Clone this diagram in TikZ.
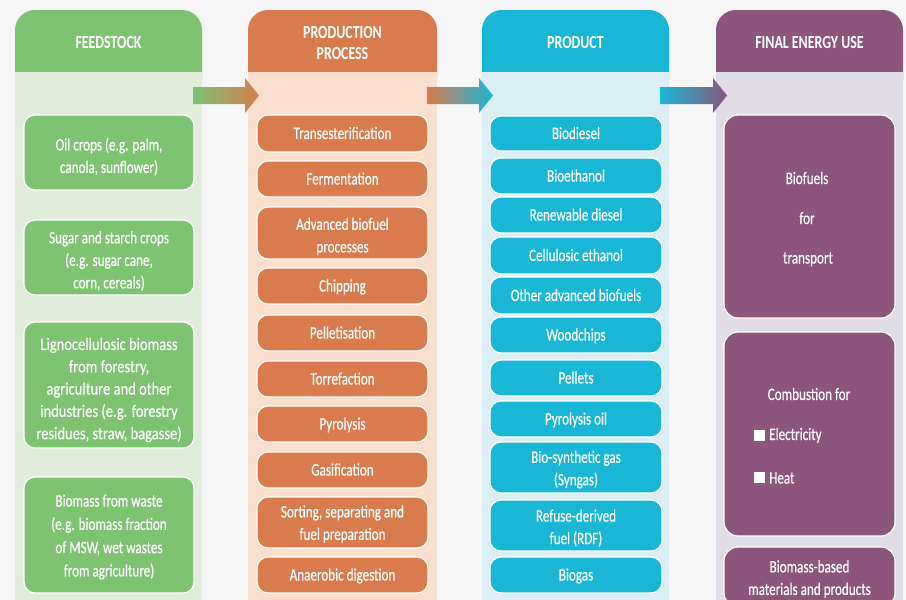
\documentclass[tikz,border=0pt]{standalone}
\usepackage{fontspec}
\setmainfont{Carlito}[FakeStretch=0.75, FakeBold=0.35]
\newfontfamily\widefont{Carlito}[FakeStretch=0.83, FakeBold=0.35]
\newfontfamily\hdrfont{Carlito}[FakeStretch=0.75, BoldFont=*-Bold]
\usetikzlibrary{calc}
\definecolor{bg}{HTML}{F6F6F6}
\definecolor{gH}{HTML}{7DC372}
\definecolor{gL}{HTML}{E1EDDB}
\definecolor{oH}{HTML}{D97B4C}
\definecolor{oL}{HTML}{FADFCF}
\definecolor{cH}{HTML}{19B7D5}
\definecolor{cL}{HTML}{DBEEF5}
\definecolor{pH}{HTML}{8B557C}
\definecolor{pL}{HTML}{E0DDE6}
\tikzset{
  struts/.style={execute at begin node={\rule{0pt}{16pt}}, execute at end node={\rule[-5pt]{0pt}{5pt}}},
  box/.style={rounded corners=11, draw=white, line width=1.2, text=white, align=center, inner sep=0pt, struts, font=\fontsize{17.5}{22.5}\selectfont},
  gbox/.style={box, fill=gH, minimum width=170},
  obox/.style={box, fill=oH, minimum width=171},
  cbox/.style={box, fill=cH, minimum width=172},
  pbox/.style={box, fill=pH, minimum width=171, rounded corners=14},
  hdr/.style={text=white, align=center, inner sep=0pt, font=\fontsize{18.5}{21}\selectfont\hdrfont\bfseries},
  txt/.style={text=white, inner sep=0pt, struts, font=\fontsize{17.5}{22.5}\selectfont},
  mtxt/.style={text=white, inner sep=0pt, align=center, font=\fontsize{17.5}{22.5}\selectfont},
  bulletsq/.style={fill=white, minimum size=11, inner sep=0pt},
}
\begin{document}
\begin{tikzpicture}[x=1pt,y=-1pt]
\fill[bg] (0,0) rectangle (906,600);
\useasboundingbox (0,0) rectangle (906,600);
% column headers (rounded) and bodies
\fill[gH, rounded corners=20] (15,10) rectangle (202,100);
\fill[oH, rounded corners=20] (248,10) rectangle (437,100);
\fill[cH, rounded corners=20] (482,10) rectangle (669,100);
\fill[pH, rounded corners=20] (716,10) rectangle (903,100);
\fill[gL] (15,72) rectangle (202,610);
\fill[oL] (248,72) rectangle (437,610);
\fill[cL] (482,72) rectangle (669,610);
\fill[pL] (716,72) rectangle (903,610);
\node[hdr] (h1) at (108.5,42) {FEEDSTOCK};
\node[hdr] (h2) at (342.5,42.5) {PRODUCTION\\PROCESS};
\node[hdr] (h3) at (575.5,42) {PRODUCT};
\node[hdr] (h4) at (809.5,42) {FINAL ENERGY USE};
% arrows between columns
\coordinate (a1s) at (193,95.5); \coordinate (a1e) at (259,95.5);
\coordinate (a2s) at (427,95.5); \coordinate (a2e) at (493,95.5);
\coordinate (a3s) at (660,95.5); \coordinate (a3e) at (727,95.5);
\shade[left color=gH, right color=oH] ($(a1s)+(0,-8.5)$) -- ($(a1e)+(-14,-8.5)$) -- ($(a1e)+(-14,-17.5)$) -- (a1e) -- ($(a1e)+(-14,17.5)$) -- ($(a1e)+(-14,8.5)$) -- ($(a1s)+(0,8.5)$) -- cycle;
\shade[left color=oH, right color=cH] ($(a2s)+(0,-8.5)$) -- ($(a2e)+(-14,-8.5)$) -- ($(a2e)+(-14,-17.5)$) -- (a2e) -- ($(a2e)+(-14,17.5)$) -- ($(a2e)+(-14,8.5)$) -- ($(a2s)+(0,8.5)$) -- cycle;
\shade[left color=cH, right color=pH] ($(a3s)+(0,-8.5)$) -- ($(a3e)+(-14,-8.5)$) -- ($(a3e)+(-14,-17.5)$) -- (a3e) -- ($(a3e)+(-14,17.5)$) -- ($(a3e)+(-14,8.5)$) -- ($(a3s)+(0,8.5)$) -- cycle;
% feedstock
\node[gbox, minimum height=75] (f1) at (109,152.5) {};
\node[mtxt] (f1t) at ($(f1)+(0,4)$) {Oil crops (e.g. palm,\\canola, sunflower)};
\node[gbox, minimum height=75] (f2) at (109,257.5) {};
\node[mtxt] (f2t) at ($(f2)+(0,3.5)$) {Sugar and starch crops\\(e.g. sugar cane,\\corn, cereals)};
\node[gbox, minimum height=126] (f3) at (109,385) {};
\node[mtxt, font=\fontsize{17.5}{22.3}\selectfont\widefont] (f3t) at ($(f3)+(0,5)$) {Lignocellulosic biomass\\from forestry,\\agriculture and other\\industries (e.g. forestry\\residues, straw, bagasse)};
\node[gbox, minimum height=116] (f4) at (109,535) {};
\node[mtxt, font=\fontsize{17.5}{23.3}\selectfont] (f4t) at ($(f4)+(0,2)$) {Biomass from waste\\(e.g. biomass fraction\\of MSW, wet wastes\\from agriculture)};
% production process
\node[obox, minimum height=37] (p1) at (342.5,133.5) {Transesterification};
\node[obox, minimum height=36] (p2) at (342.5,179) {Fermentation};
\node[obox, minimum height=52] (p3) at (342.5,233) {};
\node[mtxt] (p3t) at ($(p3)+(0,3.5)$) {Advanced biofuel\\processes};
\node[obox, minimum height=36] (p4) at (342.5,286) {Chipping};
\node[obox, minimum height=36] (p5) at (342.5,333) {Pelletisation};
\node[obox, minimum height=36] (p6) at (342.5,379) {Torrefaction};
\node[obox, minimum height=36] (p7) at (342.5,424) {Pyrolysis};
\node[obox, minimum height=36] (p8) at (342.5,470) {Gasification};
\node[obox, minimum height=51] (p9) at (342.5,522.5) {};
\node[mtxt] (p9t) at ($(p9)+(0,1.5)$) {Sorting, separating and\\fuel preparation};
\node[obox, minimum height=36] (p10) at (342.5,575) {Anaerobic digestion};
% product
\node[cbox, minimum height=35] (r1) at (576,133.5) {Biodiesel};
\node[cbox, minimum height=36] (r2) at (576,176) {Bioethanol};
\node[cbox, minimum height=36] (r3) at (576,215) {Renewable diesel};
\node[cbox, minimum height=37] (r4) at (576,255.5) {Cellulosic ethanol};
\node[cbox, minimum height=37] (r5) at (576,295.5) {Other advanced biofuels};
\node[cbox, minimum height=36] (r6) at (576,335) {Woodchips};
\node[cbox, minimum height=36] (r7) at (576,378) {Pellets};
\node[cbox, minimum height=36] (r8) at (576,419) {Pyrolysis oil};
\node[cbox, minimum height=51] (r9) at (576,467.5) {};
\node[mtxt] (r9t) at ($(r9)+(0,2)$) {Bio-synthetic gas\\(Syngas)};
\node[cbox, minimum height=51] (r10) at (576,525.5) {};
\node[mtxt] (r10t) at ($(r10)+(0,2.5)$) {Refuse-derived\\fuel (RDF)};
\node[cbox, minimum height=36] (r11) at (576,575) {Biogas};
% final energy use
\node[pbox, minimum height=203] (e1) at (809.5,216.5) {};
\node[txt] (e1a) at (807,178.5) {Biofuels};
\node[txt] (e1b) at (807,218.5) {for};
\node[txt] (e1c) at (808,258) {transport};
\node[pbox, minimum height=204] (e2) at (809.5,434) {};
\node[txt] (e2t) at (809,394.5) {Combustion for};
\node[bulletsq] (b1) at (759.5,435) {};
\node[txt, anchor=west] (e2a) at (769,434.5) {Electricity};
\node[bulletsq] (b2) at (759.5,477.5) {};
\node[txt, anchor=west] (e2b) at (769,478) {Heat};
\node[pbox, minimum height=60] (e3) at (809.5,577) {};
\node[mtxt] (e3t) at ($(e3)+(0,2)$) {Biomass-based\\materials and products};
\end{tikzpicture}
\end{document}
